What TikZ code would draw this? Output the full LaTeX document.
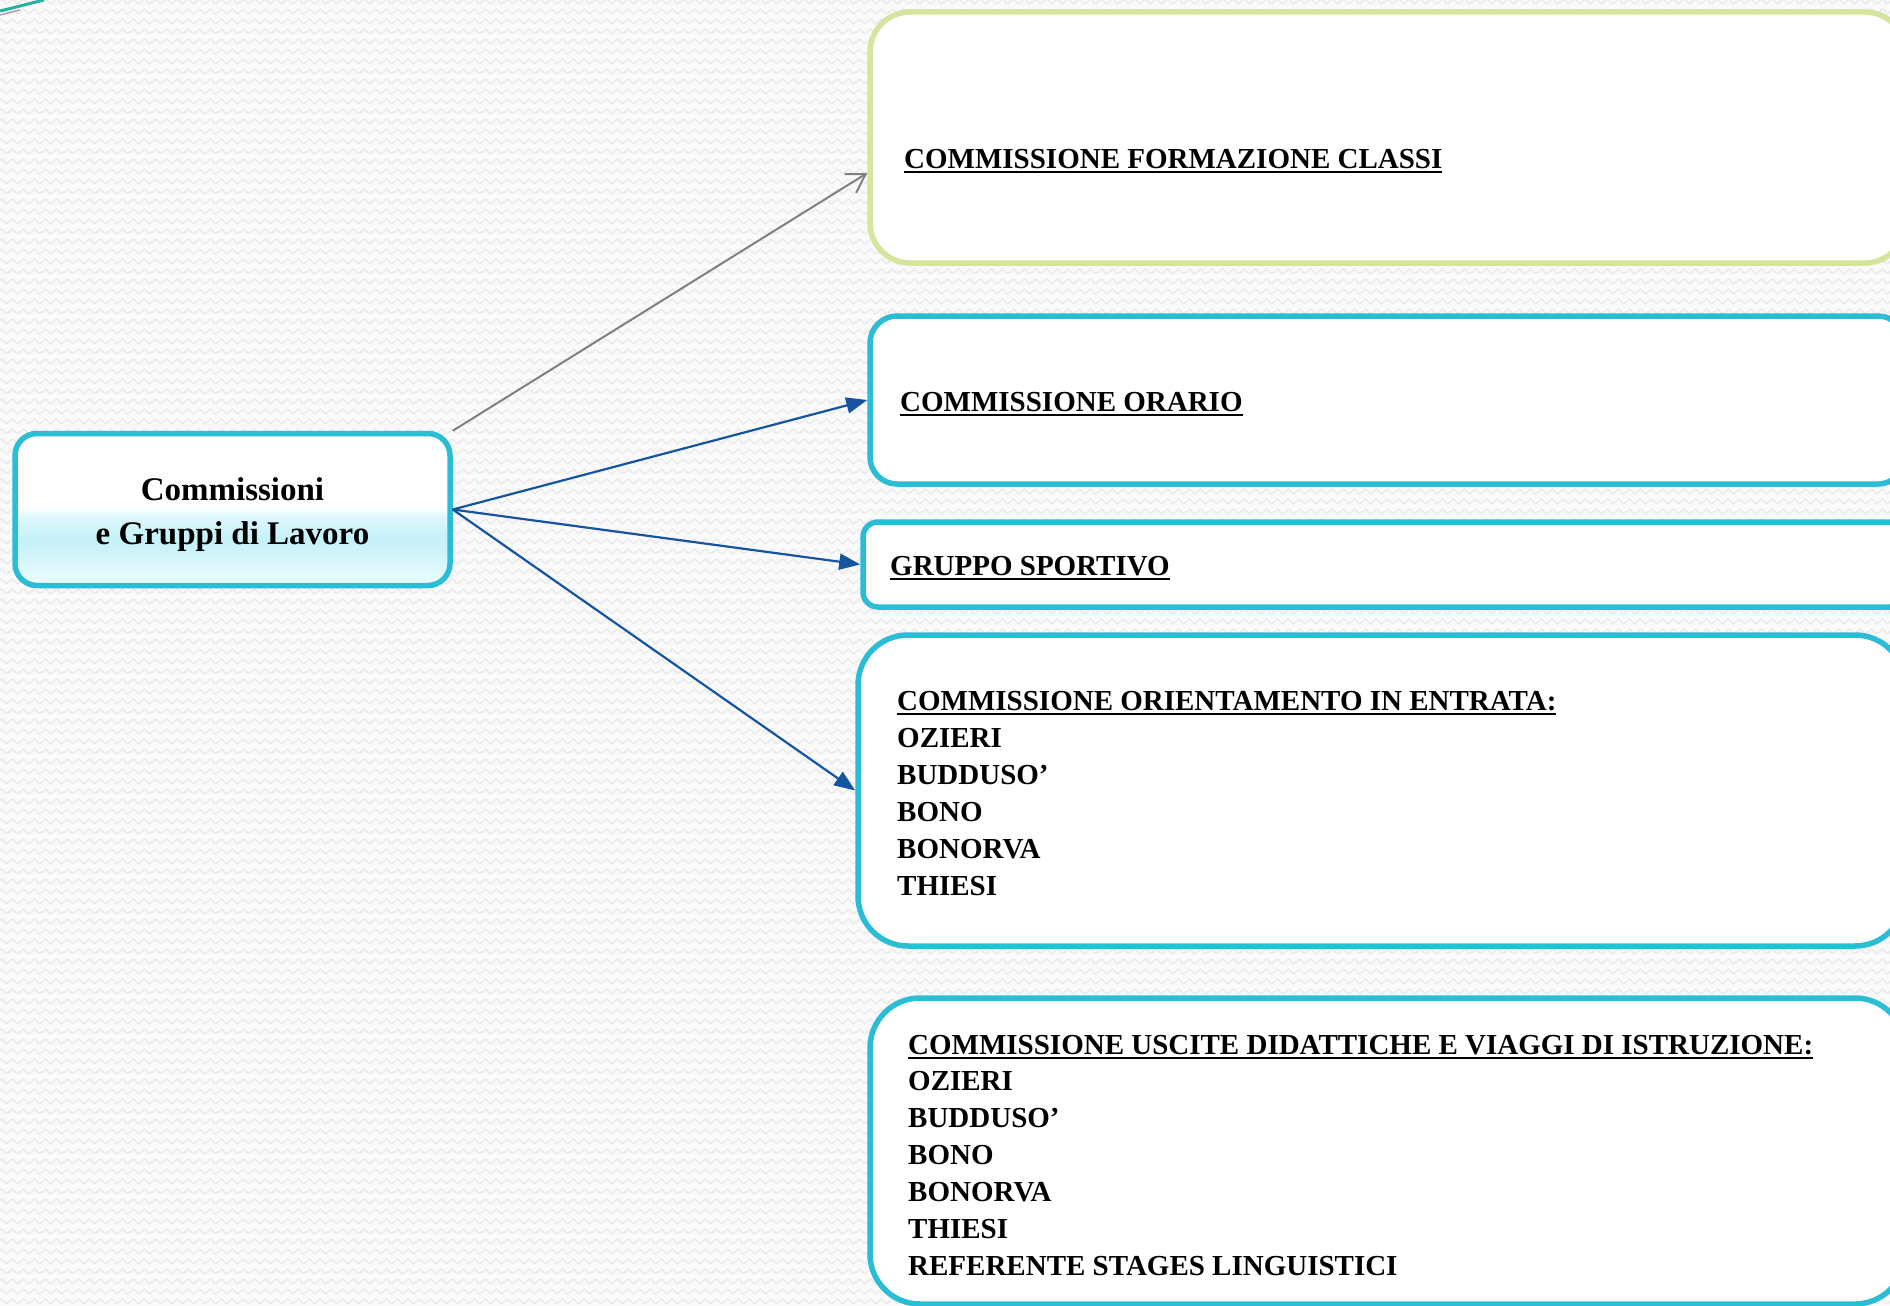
\documentclass[tikz,border=0pt]{standalone}
\usepackage{fontspec}
\setmainfont{Liberation Serif}
\usetikzlibrary{arrows.meta,calc,patterns.meta}
\definecolor{bgc}{RGB}{250,250,250}
\definecolor{wvc}{RGB}{234,234,234}
\definecolor{cyb}{RGB}{43,189,212}
\definecolor{grb}{RGB}{212,229,158}
\definecolor{arb}{RGB}{21,84,158}
\definecolor{arg}{RGB}{128,128,128}
\definecolor{tlc}{RGB}{38,178,160}
\definecolor{shA}{RGB}{236,251,253}
\definecolor{shB}{RGB}{196,241,249}
\definecolor{shC}{RGB}{218,247,251}
\pgfdeclareverticalshading{nodeshade}{100bp}{color(0bp)=(shA); color(25bp)=(shA); color(32bp)=(shC); color(40bp)=(shB); color(47bp)=(shC); color(51bp)=(white); color(100bp)=(white)}
\tikzdeclarepattern{
  name=waves,
  type=colored,
  bounding box={(0pt,0pt) and (11pt,10pt)},
  tile size={(11pt,10pt)},
  code={\draw[wvc, line width=1.6pt] (0pt,5pt) sin (2.75pt,7.5pt) cos (5.5pt,5pt) sin (8.25pt,2.5pt) cos (11pt,5pt);}
}
\newcommand\myul[1]{\setbox0=\hbox{#1}\rlap{\rule[-4.5pt]{\wd0}{2pt}}\box0}
\newcommand\boxfont{\fontsize{29}{37}\selectfont\bfseries}
\newcommand\mainfont{\fontsize{33}{44}\selectfont\bfseries}
\tikzset{
  boxc/.style={draw=cyb, fill=white, line width=5.5pt, rectangle, inner sep=0pt},
  boxg/.style={draw=grb, fill=white, line width=5.5pt, rectangle, inner sep=0pt},
  txt/.style={anchor=base west, inner sep=0pt, font=\boxfont},
  mtxt/.style={anchor=base, inner sep=0pt, font=\mainfont},
  bluearrow/.style={draw=arb, line width=2.2pt, -{Triangle[length=21pt,width=16pt]}},
  grayarrow/.style={draw=arg, line width=2pt, -{Straight Barb[length=18pt,width=22pt]}}
}
\begin{document}
\begin{tikzpicture}[x=1pt,y=-1pt]
\useasboundingbox (0,0) rectangle (1890,1306);
\fill[bgc] (0,0) rectangle (1890,1306);
\fill[pattern=waves] (0,0) rectangle (1890,1306);
% corner decoration
\draw[arg!70, line width=1.5pt] (0,15) -- (20,10);
\draw[tlc, line width=3pt] (0,11) -- (44,0);
% boxes
\node[boxg, rounded corners=40pt, minimum width=1035pt, minimum height=251pt] (b1) at (1387.5,137.5) {};
\node[boxc, rounded corners=27pt, minimum width=1035pt, minimum height=168pt] (b2) at (1387.5,400) {};
\node[boxc, rounded corners=15pt, minimum width=1042pt, minimum height=85pt] (b3) at (1384,564.5) {};
\node[boxc, rounded corners=50pt, minimum width=1047pt, minimum height=311pt] (b4) at (1381.5,790.5) {};
\node[boxc, rounded corners=50pt, minimum width=1035pt, minimum height=306pt] (b5) at (1387.5,1151) {};
% main node
\node[draw=cyb, line width=5.5pt, rounded corners=22pt, shading=nodeshade, minimum width=435pt, minimum height=152pt, inner sep=0pt] (L) at (232.5,509.5) {};
\node[mtxt] (L1) at (232.5,500) {Commissioni};
\node[mtxt] (L2) at (232.5,544) {e Gruppi di Lavoro};
% texts
\node[txt] (t1) at (904,168) {\myul{COMMISSIONE FORMAZIONE CLASSI}};
\node[txt] (t2) at (900,411) {\myul{COMMISSIONE ORARIO}};
\node[txt] (t3) at (890,575) {\myul{GRUPPO SPORTIVO}};
\node[txt] (t4a) at (897,710) {\myul{COMMISSIONE ORIENTAMENTO IN ENTRATA:}};
\node[txt] (t4b) at (897,747) {OZIERI};
\node[txt] (t4c) at (897,784) {BUDDUSO’};
\node[txt] (t4d) at (897,821) {BONO};
\node[txt] (t4e) at (897,858) {BONORVA};
\node[txt] (t4f) at (897,895) {THIESI};
\node[txt] (t5a) at (908,1054) {\myul{COMMISSIONE USCITE DIDATTICHE E VIAGGI DI ISTRUZIONE:}};
\node[txt] (t5b) at (908,1090.5) {OZIERI};
\node[txt] (t5c) at (908,1127.5) {BUDDUSO’};
\node[txt] (t5d) at (908,1164.5) {BONO};
\node[txt] (t5e) at (908,1201.5) {BONORVA};
\node[txt] (t5f) at (908,1238.5) {THIESI};
\node[txt] (t5g) at (908,1275.5) {REFERENTE STAGES LINGUISTICI};
% connectors
\draw[grayarrow] (L.north east) -- ([yshift=-35.5pt]b1.west);
\draw[bluearrow] (L.east) -- (b2.west);
\draw[bluearrow] (L.east) -- (b3.west);
\draw[bluearrow] (L.east) -- (b4.west);
\end{tikzpicture}
\end{document}
